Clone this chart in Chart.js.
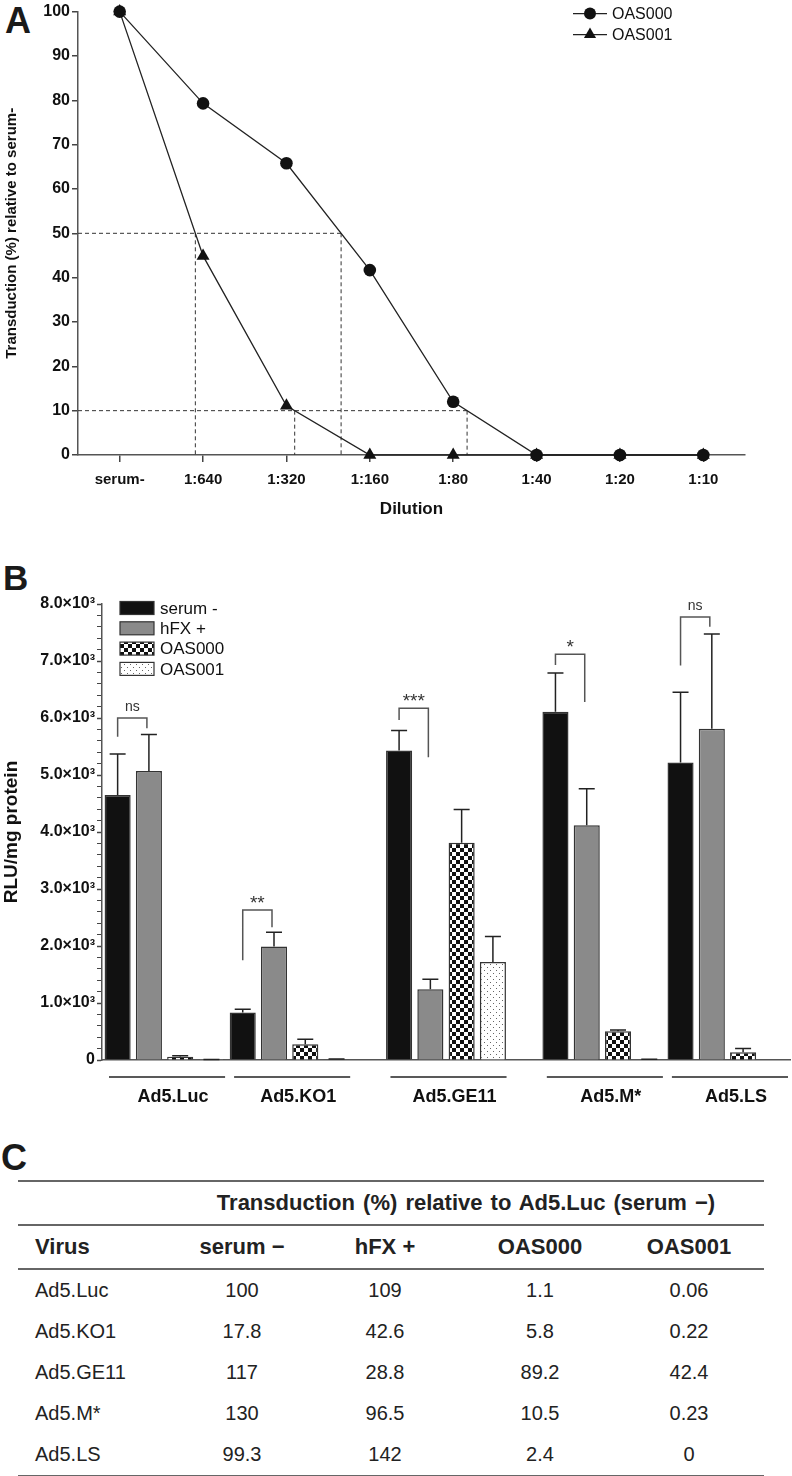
<!DOCTYPE html>
<html>
<head>
<meta charset="utf-8">
<script src="https://cdn.jsdelivr.net/npm/chart.js@4.4.1/dist/chart.umd.min.js"></script>
<style>
  html, body { margin: 0; padding: 0; background: #fff; }
  body { width: 792px; height: 1476px; position: relative; overflow: hidden; font-family: 'Liberation Sans', Arial, sans-serif; color: #1a1a1a; }
  .letter { position: absolute; font-weight: bold; font-size: 36px; line-height: 1; }
  canvas { position: absolute; left: 0; }
  #chartA { top: 0; }
  #chartB { top: 540px; }
  #tableC { position: absolute; left: 18px; top: 1180px; width: 746px; border-collapse: collapse; table-layout: fixed; font-size: 20px; color: #222; }
  #tableC th, #tableC td { padding: 0; text-align: center; vertical-align: middle; }
  #tableC th { font-weight: bold; font-size: 22px; }
  #tableC .first { text-align: left; padding-left: 17px; }
  #tableC tr.h1 th { height: 42px; border-top: 2px solid #666; border-bottom: 2px solid #666; padding-right: 12px; word-spacing: 2px; }
  #tableC tr.h2 th { height: 42px; border-bottom: 2px solid #666; }
  #tableC tbody td { height: 41px; }
  #tableC tbody tr:last-child td { border-bottom: 2px solid #666; }
</style>
</head>
<body>
<div class="letter" style="left:5px; top:3px;">A</div>
<div class="letter" style="left:3px; top:560px; font-size:35px;">B</div>
<div class="letter" style="left:1px; top:1140px;">C</div>
<canvas id="chartA" width="792" height="530"></canvas>
<canvas id="chartB" width="792" height="580"></canvas>
<table id="tableC">
  <colgroup><col style="width:162px"><col style="width:124px"><col style="width:162px"><col style="width:148px"><col style="width:150px"></colgroup>
  <thead></thead>
  <tbody></tbody>
</table>
<script>
// panel A: neutralisation curves
const dilutions = ['serum-', '1:640', '1:320', '1:160', '1:80', '1:40', '1:20', '1:10'];
const oas000Transduction = [100, 79.3, 65.8, 41.7, 12.0, 0, 0, 0];
const oas001Transduction = [100, 44.9, 11.1, 0, 0, 0, 0, 0];
const cutoffLevels = [50, 10];

// panel B: RLU/mg protein, mean and SEM
const viruses = ['Ad5.Luc', 'Ad5.KO1', 'Ad5.GE11', 'Ad5.M*', 'Ad5.LS'];
const conditions = ['serum -', 'hFX +', 'OAS000', 'OAS001'];
const serumMinusRlu = [4650, 835, 5430, 6110, 5220];
const hfxPlusRlu = [5070, 1990, 1240, 4120, 5810];
const oas000Rlu = [58, 275, 3810, 505, 135];
const oas001Rlu = [4, 12, 1720, 10, 0];
const serumMinusSem = [720, 55, 350, 680, 1230];
const hfxPlusSem = [640, 250, 175, 640, 1665];
const oas000Sem = [17, 90, 585, 20, 65];
const oas001Sem = [3, 5, 445, 4, 0];
const groupStartSlot = [0, 4, 9, 14, 18];
const slotCount = 22;
const sigLabels = ['ns', '**', '***', '*', 'ns'];
const sigBracketTop = [6000, 2630, 6170, 7120, 7770];
const sigLeftEnd = [5670, 1750, 5965, 6930, 6920];
const sigRightEnd = [5820, 2330, 5310, 6280, 7600];

// panel C: table
const tableTitle = 'Transduction (%) relative to Ad5.Luc (serum \u2212)';
const tableColumns = ['Virus', 'serum \u2212', 'hFX +', 'OAS000', 'OAS001'];
const pctSerumMinus = [100, 17.8, 117, 130, 99.3];
const pctHfxPlus = [109, 42.6, 28.8, 96.5, 142];
const pctOas000 = [1.1, 5.8, 89.2, 10.5, 2.4];
const pctOas001 = [0.06, 0.22, 42.4, 0.23, 0];

const FONT = "'Liberation Sans', Arial, sans-serif";
Chart.defaults.font.family = FONT;
Chart.defaults.color = '#111';

// where a curve first drops below a level, as a fractional category index
function crossing(values, level) {
  for (let i = 0; i < values.length - 1; i++) {
    if (values[i] >= level && values[i + 1] < level) {
      return i + (values[i] - level) / (values[i] - values[i + 1]);
    }
  }
  return null;
}

function drawMarker(ctx, style, x, y, r) {
  ctx.beginPath();
  if (style === 'triangle') {
    ctx.moveTo(x, y - r);
    ctx.lineTo(x + r * 0.866, y + r * 0.5);
    ctx.lineTo(x - r * 0.866, y + r * 0.5);
    ctx.closePath();
  } else {
    ctx.arc(x, y, r, 0, Math.PI * 2);
  }
  ctx.fill();
}

const cutoffPlugin = {
  id: 'cutoffs',
  beforeDatasetsDraw(chart) {
    const {ctx, chartArea} = chart;
    const x = chart.scales.x, y = chart.scales.y;
    ctx.save();
    ctx.strokeStyle = '#333';
    ctx.lineWidth = 1;
    ctx.setLineDash([4, 3]);
    cutoffLevels.forEach(level => {
      const ly = y.getPixelForValue(level);
      const xs = chart.data.datasets.map(ds => crossing(ds.data, level)).filter(v => v !== null).map(v => x.getPixelForValue(v));
      ctx.beginPath();
      ctx.moveTo(chartArea.left, ly);
      ctx.lineTo(Math.max(...xs), ly);
      xs.forEach(px => { ctx.moveTo(px, ly); ctx.lineTo(px, y.getPixelForValue(0)); });
      ctx.stroke();
    });
    ctx.restore();
  }
};

const legendAPlugin = {
  id: 'legendA',
  afterDraw(chart) {
    const {ctx, chartArea} = chart;
    const x0 = chartArea.right - 172;
    ctx.save();
    chart.data.datasets.forEach((ds, i) => {
      const cy = chartArea.top + 2 + i * 21;
      ctx.strokeStyle = ds.borderColor;
      ctx.lineWidth = 1.3;
      ctx.beginPath(); ctx.moveTo(x0, cy); ctx.lineTo(x0 + 34, cy); ctx.stroke();
      ctx.fillStyle = ds.pointBackgroundColor;
      drawMarker(ctx, ds.pointStyle, x0 + 17, cy, ds.pointStyle === 'triangle' ? 7 : 6);
      ctx.fillStyle = '#111';
      ctx.font = '16px ' + FONT;
      ctx.textBaseline = 'middle';
      ctx.fillText(ds.label, x0 + 39, cy + 1);
    });
    ctx.restore();
  }
};

new Chart(document.getElementById('chartA'), {
  type: 'line',
  data: {
    labels: dilutions,
    datasets: [
      { label: 'OAS000', data: oas000Transduction, borderColor: '#222', borderWidth: 1.3, pointStyle: 'circle', pointRadius: 6.3, pointBackgroundColor: '#111', pointBorderColor: '#111', pointBorderWidth: 0, tension: 0, clip: false },
      { label: 'OAS001', data: oas001Transduction, borderColor: '#222', borderWidth: 1.3, pointStyle: 'triangle', pointRadius: 7.5, pointBackgroundColor: '#111', pointBorderColor: '#111', pointBorderWidth: 0, tension: 0, clip: false }
    ]
  },
  options: {
    responsive: false,
    animation: false,
    layout: { padding: { left: 0, right: 47, top: 9, bottom: 0 } },
    plugins: { legend: { display: false }, tooltip: { enabled: false } },
    scales: {
      x: {
        offset: true,
        grid: { display: true, drawOnChartArea: false, offset: false, tickLength: 7, color: '#444', lineWidth: 1.5 },
        border: { color: '#555', width: 1.5 },
        ticks: { font: { size: 15, weight: 'bold' }, color: '#111', padding: 9, maxRotation: 0, autoSkip: false },
        title: { display: true, text: 'Dilution', font: { size: 17, weight: 'bold' }, color: '#111', padding: { top: 0, bottom: 10 } },
        afterFit: s => { s.height = 75; }
      },
      y: {
        min: 0, max: 100,
        ticks: { stepSize: 10, font: { size: 16, weight: 'bold' }, color: '#111', padding: 2 },
        grid: { drawOnChartArea: false, tickLength: 6, color: '#444', lineWidth: 1.5 },
        border: { color: '#555', width: 1.5 },
        title: { display: true, text: 'Transduction (%) relative to serum-', font: { size: 15, weight: 'bold' }, color: '#111', padding: { top: 3, bottom: 0 } },
        afterFit: s => { s.width = 78; }
      }
    }
  },
  plugins: [cutoffPlugin, legendAPlugin]
});

// panel B
function makePattern(size, draw) {
  const c = document.createElement('canvas');
  c.width = c.height = size;
  const g = c.getContext('2d');
  draw(g);
  return g.createPattern(c, 'repeat');
}
const checker = makePattern(8, g => {
  g.fillStyle = '#fff'; g.fillRect(0, 0, 8, 8);
  g.fillStyle = '#111'; g.fillRect(0, 0, 4, 4); g.fillRect(4, 4, 4, 4);
});
const dots = makePattern(6, g => {
  g.fillStyle = '#fff'; g.fillRect(0, 0, 6, 6);
  g.fillStyle = '#666'; g.fillRect(1, 1, 1, 1); g.fillRect(4, 4, 1, 1);
});

const seriesB = [serumMinusRlu, hfxPlusRlu, oas000Rlu, oas001Rlu];
const semB = [serumMinusSem, hfxPlusSem, oas000Sem, oas001Sem];
const fillsB = ['#111', '#8a8a8a', checker, dots];

const slotLabels = Array.from({ length: slotCount }, () => '');
viruses.forEach((v, g) => conditions.forEach((c, t) => { slotLabels[groupStartSlot[g] + t] = v + ' ' + c; }));

const datasetsB = conditions.map((c, t) => {
  const data = Array(slotCount).fill(null);
  const errors = Array(slotCount).fill(null);
  viruses.forEach((v, g) => {
    data[groupStartSlot[g] + t] = seriesB[t][g];
    errors[groupStartSlot[g] + t] = semB[t][g];
  });
  return { label: c, data, errors, backgroundColor: fillsB[t], borderColor: '#333', borderWidth: 1.5, barPercentage: 0.834, categoryPercentage: 1, skipNull: true };
});

const errorBarPlugin = {
  id: 'errorBars',
  afterDatasetsDraw(chart) {
    const {ctx} = chart;
    const y = chart.scales.y;
    ctx.save();
    ctx.strokeStyle = '#222';
    ctx.lineWidth = 1.5;
    chart.data.datasets.forEach((ds, di) => {
      const meta = chart.getDatasetMeta(di);
      ds.errors.forEach((e, i) => {
        if (!e || ds.data[i] === null) return;
        const bar = meta.data[i];
        const top = y.getPixelForValue(ds.data[i] + e);
        ctx.beginPath();
        ctx.moveTo(bar.x, bar.y); ctx.lineTo(bar.x, top);
        ctx.moveTo(bar.x - 8, top); ctx.lineTo(bar.x + 8, top);
        ctx.stroke();
      });
    });
    ctx.restore();
  }
};

const bracketPlugin = {
  id: 'brackets',
  afterDatasetsDraw(chart) {
    const {ctx} = chart;
    const x = chart.scales.x, y = chart.scales.y;
    ctx.save();
    ctx.strokeStyle = '#555';
    ctx.lineWidth = 1.5;
    ctx.fillStyle = '#333';
    ctx.textAlign = 'center';
    ctx.textBaseline = 'alphabetic';
    viruses.forEach((v, g) => {
      const xl = x.getPixelForValue(groupStartSlot[g]);
      const xr = x.getPixelForValue(groupStartSlot[g] + 1) - 2;
      const top = y.getPixelForValue(sigBracketTop[g]);
      ctx.beginPath();
      ctx.moveTo(xl, y.getPixelForValue(sigLeftEnd[g]));
      ctx.lineTo(xl, top);
      ctx.lineTo(xr, top);
      ctx.lineTo(xr, y.getPixelForValue(sigRightEnd[g]));
      ctx.stroke();
      const isStars = sigLabels[g].indexOf('*') >= 0;
      ctx.font = (isStars ? '19px ' : '14px ') + FONT;
      ctx.fillText(sigLabels[g], (xl + xr) / 2, top - (isStars ? 1 : 7));
    });
    ctx.restore();
  }
};

const groupAxisPlugin = {
  id: 'groupAxis',
  afterDraw(chart) {
    const {ctx, chartArea} = chart;
    const x = chart.scales.x;
    const half = (x.getPixelForValue(1) - x.getPixelForValue(0)) / 2;
    ctx.save();
    ctx.strokeStyle = '#222';
    ctx.lineWidth = 1.5;
    ctx.fillStyle = '#111';
    ctx.font = 'bold 18px ' + FONT;
    ctx.textAlign = 'center';
    ctx.textBaseline = 'middle';
    viruses.forEach((v, g) => {
      const left = x.getPixelForValue(groupStartSlot[g]) - half + 7;
      const right = x.getPixelForValue(groupStartSlot[g] + conditions.length - 1) + half - 2;
      const ly = chartArea.bottom + 17;
      ctx.beginPath(); ctx.moveTo(left, ly); ctx.lineTo(right, ly); ctx.stroke();
      ctx.fillText(v, (left + right) / 2 + 6, chartArea.bottom + 37);
    });
    ctx.restore();
  }
};

const legendBPlugin = {
  id: 'legendB',
  afterDraw(chart) {
    const {ctx, chartArea} = chart;
    const x0 = chartArea.left + 18;
    ctx.save();
    chart.data.datasets.forEach((ds, i) => {
      const cy = chartArea.top + 4 + i * 20.3;
      ctx.fillStyle = ds.backgroundColor;
      ctx.fillRect(x0, cy - 6.5, 34, 13);
      ctx.strokeStyle = '#333';
      ctx.lineWidth = 1.2;
      ctx.strokeRect(x0, cy - 6.5, 34, 13);
      ctx.fillStyle = '#111';
      ctx.font = '17px ' + FONT;
      ctx.textBaseline = 'middle';
      ctx.fillText(ds.label, x0 + 40, cy + 1);
    });
    ctx.restore();
  }
};

new Chart(document.getElementById('chartB'), {
  type: 'bar',
  data: { labels: slotLabels, datasets: datasetsB },
  options: {
    responsive: false,
    animation: false,
    layout: { padding: { left: 0, right: 2, top: 64, bottom: 0 } },
    plugins: { legend: { display: false }, tooltip: { enabled: false } },
    scales: {
      x: {
        grid: { display: false },
        border: { display: true, color: '#555', width: 1.5 },
        ticks: { display: false },
        afterFit: s => { s.height = 60; }
      },
      y: {
        min: 0, max: 8000,
        ticks: {
          stepSize: 200, maxTicksLimit: 100, autoSkip: false,
          font: { size: 16, weight: 'bold' }, color: '#111', padding: 2,
          callback: v => v === 0 ? '0' : (v % 1000 === 0 ? (v / 1000).toFixed(1) + '\u00d710\u00b3' : '')
        },
        grid: { drawOnChartArea: false, tickLength: 5, color: '#444', tickWidth: ctx => (ctx.tick && ctx.tick.value % 1000 === 0 ? 1.5 : 1) },
        border: { color: '#555', width: 1.5 },
        title: { display: true, text: 'RLU/mg protein', font: { size: 19, weight: 'bold' }, color: '#111', padding: { top: 0, bottom: 0 } },
        afterFit: s => { s.width = 102; }
      }
    }
  },
  plugins: [errorBarPlugin, bracketPlugin, groupAxisPlugin, legendBPlugin]
});

// panel C
const thead = document.querySelector('#tableC thead');
const tbody = document.querySelector('#tableC tbody');
thead.innerHTML = '<tr class="h1"><th></th><th colspan="4">' + tableTitle + '</th></tr>' +
  '<tr class="h2">' + tableColumns.map((c, i) => '<th' + (i === 0 ? ' class="first"' : '') + '>' + c + '</th>').join('') + '</tr>';
viruses.forEach((v, i) => {
  const cells = [pctSerumMinus[i], pctHfxPlus[i], pctOas000[i], pctOas001[i]];
  tbody.innerHTML += '<tr><td class="first">' + v + '</td>' + cells.map(c => '<td>' + c + '</td>').join('') + '</tr>';
});
</script>
</body>
</html>
